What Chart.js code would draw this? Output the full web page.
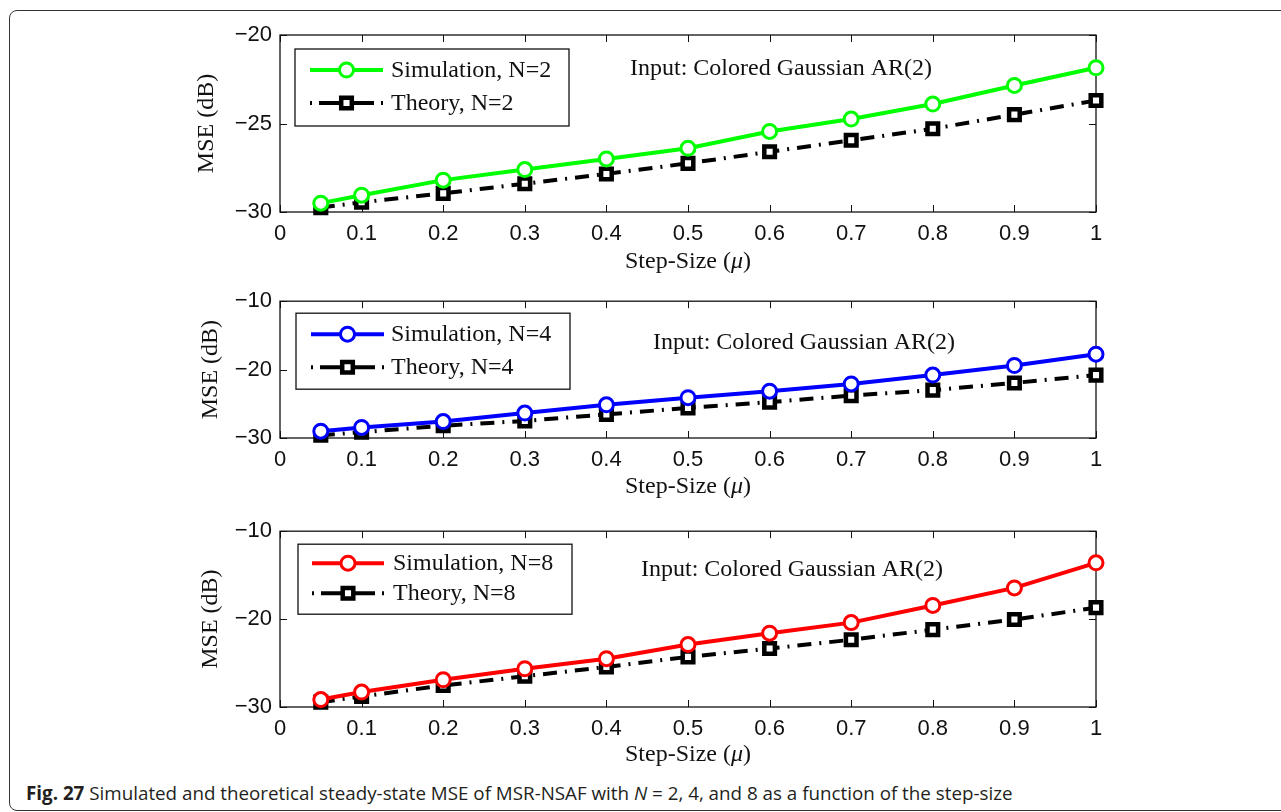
<!DOCTYPE html>
<html>
<head>
<meta charset="utf-8">
<script src="https://cdn.jsdelivr.net/npm/chart.js@4/dist/chart.umd.min.js"></script>
<style>
  html, body { margin: 0; padding: 0; background: #fff; }
  body { width: 1281px; height: 812px; position: relative; overflow: hidden; }
  .frame { position: absolute; left: 9px; top: 10px; width: 1300px; height: 801px;
           border: 1.5px solid #333; border-radius: 8px; box-sizing: border-box; }
  canvas { position: absolute; left: 0; }
  .caption { position: absolute; left: 26px; top: 784px; font-family: 'Open Sans', sans-serif;
             font-size: 18.8px; line-height: 18px; color: #231f20; white-space: nowrap; }
  .caption b { font-weight: 700; }
</style>
</head>
<body>
<div class="frame"></div>
<canvas id="panelN2" width="1281" height="280" style="top:0px"></canvas>
<canvas id="panelN4" width="1281" height="230" style="top:280px"></canvas>
<canvas id="panelN8" width="1281" height="265" style="top:510px"></canvas>
<div class="caption"><b>Fig. 27</b> Simulated and theoretical steady-state MSE of MSR-NSAF with <i>N</i> = 2, 4, and 8 as a function of the step-size</div>

<script>
// Step sizes (mu) at which the steady-state MSE was evaluated
const stepSizes = [0.05, 0.1, 0.2, 0.3, 0.4, 0.5, 0.6, 0.7, 0.8, 0.9, 1.0];

// Steady-state MSE in dB
const simN2    = [-29.5, -29.05, -28.2, -27.6, -27.0, -26.4, -25.45, -24.75, -23.9, -22.85, -21.85];
const theoryN2 = [-29.75, -29.45, -28.95, -28.4, -27.85, -27.25, -26.6, -25.95, -25.3, -24.5, -23.7];
const simN4    = [-29.0, -28.45, -27.6, -26.35, -25.15, -24.1, -23.15, -22.1, -20.8, -19.4, -17.75];
const theoryN4 = [-29.6, -29.15, -28.2, -27.5, -26.55, -25.6, -24.75, -23.8, -23.0, -21.95, -20.8];
const simN8    = [-29.15, -28.3, -26.9, -25.65, -24.5, -22.9, -21.6, -20.4, -18.45, -16.45, -13.6];
const theoryN8 = [-29.45, -28.8, -27.55, -26.5, -25.45, -24.3, -23.35, -22.35, -21.2, -20.05, -18.7];

// Axis ticks
const xTicks = [0, 0.1, 0.2, 0.3, 0.4, 0.5, 0.6, 0.7, 0.8, 0.9, 1];
const xTickLabels = ['0', '0.1', '0.2', '0.3', '0.4', '0.5', '0.6', '0.7', '0.8', '0.9', '1'];
const yTicksN2 = [-30, -25, -20];
const yTicksWide = [-30, -20, -10];

const inputLabel = 'Input: Colored Gaussian AR(2)';
const SERIF = '"Liberation Serif", "DejaVu Serif", serif';
const SANS = '"Liberation Sans", Arial, sans-serif';
const SERIF_SIZE = 24;

// Boxed axes with inward ticks, serif axis titles, legend and input note
const matlabAxes = {
  id: 'matlabAxes',
  beforeDatasetsDraw(chart) {
    const ctx = chart.ctx, a = chart.chartArea;
    const xs = chart.scales.x, ys = chart.scales.y;
    ctx.save();
    ctx.strokeStyle = '#111';
    ctx.lineWidth = 1.3;
    ctx.strokeRect(a.left, a.top, a.right - a.left, a.bottom - a.top);
    ctx.beginPath();
    const tl = 7;
    xs.ticks.forEach(t => {
      const px = Math.round(xs.getPixelForValue(t.value)) + 0.5;
      ctx.moveTo(px, a.bottom); ctx.lineTo(px, a.bottom - tl);
      ctx.moveTo(px, a.top); ctx.lineTo(px, a.top + tl);
    });
    ys.ticks.forEach(t => {
      const py = Math.round(ys.getPixelForValue(t.value)) + 0.5;
      ctx.moveTo(a.left, py); ctx.lineTo(a.left + tl, py);
      ctx.moveTo(a.right, py); ctx.lineTo(a.right - tl, py);
    });
    ctx.lineWidth = 1;
    ctx.stroke();
    ctx.restore();
  },
  afterDraw(chart, args, o) {
    const ctx = chart.ctx, a = chart.chartArea;
    const reg = SERIF_SIZE + 'px ' + SERIF, ital = 'italic ' + SERIF_SIZE + 'px ' + SERIF;
    ctx.save();
    ctx.fillStyle = '#111';
    ctx.textBaseline = 'alphabetic';

    // x-axis title: Step-Size (mu) with an italic mu
    const p1 = 'Step-Size (', p2 = '\u03bc', p3 = ')';
    ctx.font = reg;
    const w1 = ctx.measureText(p1).width, w3 = ctx.measureText(p3).width;
    ctx.font = ital;
    const w2 = ctx.measureText(p2).width;
    let tx = (a.left + a.right) / 2 - (w1 + w2 + w3) / 2;
    const ty = a.bottom + o.xTitleOffset;
    ctx.textAlign = 'left';
    ctx.font = reg; ctx.fillText(p1, tx, ty); tx += w1;
    ctx.font = ital; ctx.fillText(p2, tx, ty); tx += w2;
    ctx.font = reg; ctx.fillText(p3, tx, ty);

    // y-axis title
    ctx.save();
    ctx.translate(o.yTitleX, (a.top + a.bottom) / 2);
    ctx.rotate(-Math.PI / 2);
    ctx.textAlign = 'center';
    ctx.fillText('MSE (dB)', 0, 0);
    ctx.restore();

    // input note
    ctx.textAlign = 'left';
    ctx.fillText(inputLabel, a.left + o.noteDx, a.top + o.noteDy);

    // legend
    const L = o.legend;
    const bx = a.left + L.dx, by = a.top + L.dy;
    ctx.fillStyle = '#fff';
    ctx.fillRect(bx, by, L.w, L.h);
    ctx.strokeStyle = '#111';
    ctx.lineWidth = 1.3;
    ctx.strokeRect(bx, by, L.w, L.h);
    chart.data.datasets.forEach((ds, i) => {
      const ry = by + L.rows[i];
      const x0 = bx + L.lineStart, x1 = bx + L.lineEnd, xm = (x0 + x1) / 2;
      ctx.save();
      ctx.strokeStyle = ds.borderColor;
      ctx.lineWidth = ds.borderWidth;
      ctx.setLineDash(ds.borderDash && ds.borderDash.length ? [2, 7, x1 - x0 - 18, 7] : []);
      ctx.beginPath(); ctx.moveTo(x0, ry); ctx.lineTo(x1, ry); ctx.stroke();
      ctx.restore();
      ctx.save();
      ctx.fillStyle = ds.pointBackgroundColor;
      ctx.strokeStyle = ds.pointBorderColor;
      ctx.lineWidth = ds.pointBorderWidth;
      ctx.beginPath();
      if (ds.pointStyle === 'circle') {
        ctx.arc(xm, ry, ds.pointRadius, 0, Math.PI * 2);
      } else {
        const s = Math.SQRT1_2 * ds.pointRadius;
        ctx.rect(xm - s, ry - s, 2 * s, 2 * s);
      }
      ctx.fill(); ctx.stroke();
      ctx.restore();
      ctx.fillStyle = '#111';
      ctx.font = reg;
      ctx.fillText(ds.label, bx + L.textStart, ry + 7);
    });
    ctx.restore();
  }
};

function makePanel(id, sim, theory, colour, n, yTicks, pad, deco) {
  const simSet = {
    label: 'Simulation, N=' + n,
    data: sim,
    borderColor: colour,
    borderWidth: 4,
    pointStyle: 'circle',
    pointRadius: 7,
    pointBorderWidth: 3,
    pointBorderColor: colour,
    pointBackgroundColor: '#fff',
    clip: false,
    order: 1
  };
  const theorySet = {
    label: 'Theory, N=' + n,
    data: theory,
    borderColor: '#000',
    borderWidth: 4,
    borderDash: [14, 8, 2, 8],
    pointStyle: 'rect',
    pointRadius: 7.5,
    pointBorderWidth: 4.5,
    pointBorderColor: '#000',
    pointBackgroundColor: '#fff',
    clip: false,
    order: 2
  };
  return new Chart(document.getElementById(id), {
    type: 'line',
    data: { labels: stepSizes, datasets: [simSet, theorySet] },
    options: {
      responsive: false,
      animation: false,
      devicePixelRatio: 1,
      layout: { padding: pad },
      elements: { line: { tension: 0 } },
      plugins: {
        legend: { display: false },
        tooltip: { enabled: false },
        matlabAxes: deco
      },
      scales: {
        x: {
          type: 'linear',
          min: 0, max: 1,
          afterBuildTicks: s => { s.ticks = xTicks.map(v => ({ value: v })); },
          afterFit: s => { s.height = 50; },
          grid: { display: false, drawTicks: false },
          border: { display: false },
          ticks: {
            autoSkip: false, maxRotation: 0, padding: 9,
            color: '#111', font: { family: SANS, size: 22 },
            callback: (v) => xTickLabels[xTicks.findIndex(t => Math.abs(t - v) < 1e-9)]
          }
        },
        y: {
          min: yTicks[0], max: yTicks[yTicks.length - 1],
          afterBuildTicks: s => { s.ticks = yTicks.map(v => ({ value: v })); },
          afterFit: s => { s.width = 80; },
          grid: { display: false, drawTicks: false },
          border: { display: false },
          ticks: {
            padding: 8, color: '#111', font: { family: SANS, size: 22 },
            callback: v => (v < 0 ? '\u2212' + Math.abs(v) : String(v))
          }
        }
      }
    },
    plugins: [matlabAxes]
  });
}

makePanel('panelN2', simN2, theoryN2, '#00ff00', 2, yTicksN2,
  { left: 200, right: 185, top: 35, bottom: 18 },
  { xTitleOffset: 56, yTitleX: 213, noteDx: 350, noteDy: 40,
    legend: { dx: 15, dy: 14, w: 274, h: 77, rows: [21, 54], lineStart: 15, lineEnd: 88, textStart: 96 } });

makePanel('panelN4', simN4, theoryN4, '#0000ff', 4, yTicksWide,
  { left: 200, right: 185, top: 16, bottom: 22 },
  { xTitleOffset: 55, yTitleX: 217, noteDx: 373, noteDy: 48,
    legend: { dx: 16, dy: 12, w: 274, h: 76, rows: [21, 54], lineStart: 15, lineEnd: 88, textStart: 95 } });

makePanel('panelN8', simN8, theoryN8, '#ff0000', 8, yTicksWide,
  { left: 200, right: 185, top: 21, bottom: 18 },
  { xTitleOffset: 54, yTitleX: 217, noteDx: 361, noteDy: 45,
    legend: { dx: 18, dy: 13, w: 274, h: 70, rows: [19, 49], lineStart: 14, lineEnd: 86, textStart: 95 } });
</script>
</body>
</html>
